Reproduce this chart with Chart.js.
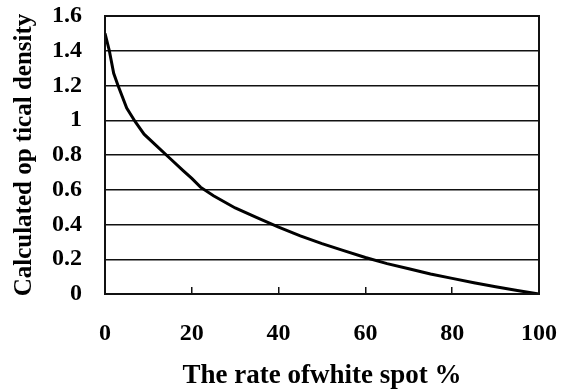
<!DOCTYPE html>
<html lang="en">
    <head>
        <meta charset="UTF-8">
        <title>Calculated optical density</title>
        <script src="https://cdn.jsdelivr.net/npm/chart.js"></script>
        <style>
            body { margin: 0; background: #fff; }
            #wrap { width: 567px; height: 390px; }
        </style>
    </head>
    <body>
        <div id="wrap"><canvas id="density"></canvas></div>
    </body>
    <script>
        // values
        const whiteRate = [0, 1, 2, 3, 5, 7, 9, 12, 15, 18, 20, 22, 25, 30, 35, 40, 45, 50, 55, 60, 65, 70, 75, 80, 85, 90, 95, 100];
        const opticalDensity = [1.50, 1.40, 1.27, 1.20, 1.07, 0.99, 0.92, 0.85, 0.78, 0.71, 0.665, 0.615, 0.565, 0.495, 0.44, 0.385, 0.335, 0.29, 0.25, 0.21, 0.175, 0.145, 0.115, 0.09, 0.065, 0.042, 0.02, 0.0];
        const xLabel = 'The rate ofwhite spot %';
        const yLabel = 'Calculated op tical density';

        const serif = '"Liberation Serif", "DejaVu Serif", serif';

        // frame around the plot area
        const frame = {
            id: 'frame',
            afterDraw(chart) {
                const {ctx, chartArea} = chart;
                ctx.save();
                ctx.strokeStyle = '#111';
                ctx.lineWidth = 2;
                ctx.strokeRect(chartArea.left, chartArea.top, chartArea.right - chartArea.left, chartArea.bottom - chartArea.top);
                ctx.restore();
            }
        };

        new Chart(document.getElementById('density'), {
            type: 'line',
            data: {
                datasets: [{
                    data: whiteRate.map((r, i) => ({x: r, y: opticalDensity[i]})),
                    borderColor: '#000',
                    borderWidth: 3,
                    pointRadius: 0,
                    tension: 0
                }]
            },
            options: {
                responsive: true,
                maintainAspectRatio: false,
                animation: false,
                layout: { padding: { top: 16, right: 28, left: 0, bottom: 0 } },
                plugins: { legend: { display: false }, tooltip: { enabled: false } },
                scales: {
                    x: {
                        type: 'linear',
                        min: 0,
                        max: 100,
                        afterFit: (s) => { s.height = 96; s.paddingLeft = 0; s.paddingRight = 0; },
                        ticks: {
                            stepSize: 20,
                            color: '#000',
                            padding: 32,
                            font: { family: serif, size: 24, weight: 'bold' }
                        },
                        grid: {
                            drawOnChartArea: false,
                            drawTicks: true,
                            tickLength: -7,
                            color: '#111',
                            lineWidth: 1.5
                        },
                        border: { display: true, color: '#111', width: 2 },
                        title: {
                            display: true,
                            text: xLabel,
                            color: '#000',
                            padding: { top: 0, bottom: 0 },
                            font: { family: serif, size: 27, weight: 'bold', lineHeight: 1 }
                        }
                    },
                    y: {
                        min: 0,
                        max: 1.6,
                        afterFit: (s) => { s.width = 105; s.paddingTop = 0; s.paddingBottom = 0; },
                        ticks: {
                            stepSize: 0.2,
                            color: '#000',
                            padding: 23,
                            font: { family: serif, size: 24, weight: 'bold' },
                            callback: (v) => String(+v.toFixed(1))
                        },
                        grid: {
                            drawTicks: false,
                            color: '#111',
                            lineWidth: 1.5
                        },
                        border: { display: true, color: '#111', width: 2 },
                        title: {
                            display: true,
                            text: yLabel,
                            color: '#000',
                            padding: { top: 12, bottom: 0 },
                            font: { family: serif, size: 25, weight: 'bold', lineHeight: 1 }
                        }
                    }
                }
            },
            plugins: [frame]
        });
    </script>
</html>
